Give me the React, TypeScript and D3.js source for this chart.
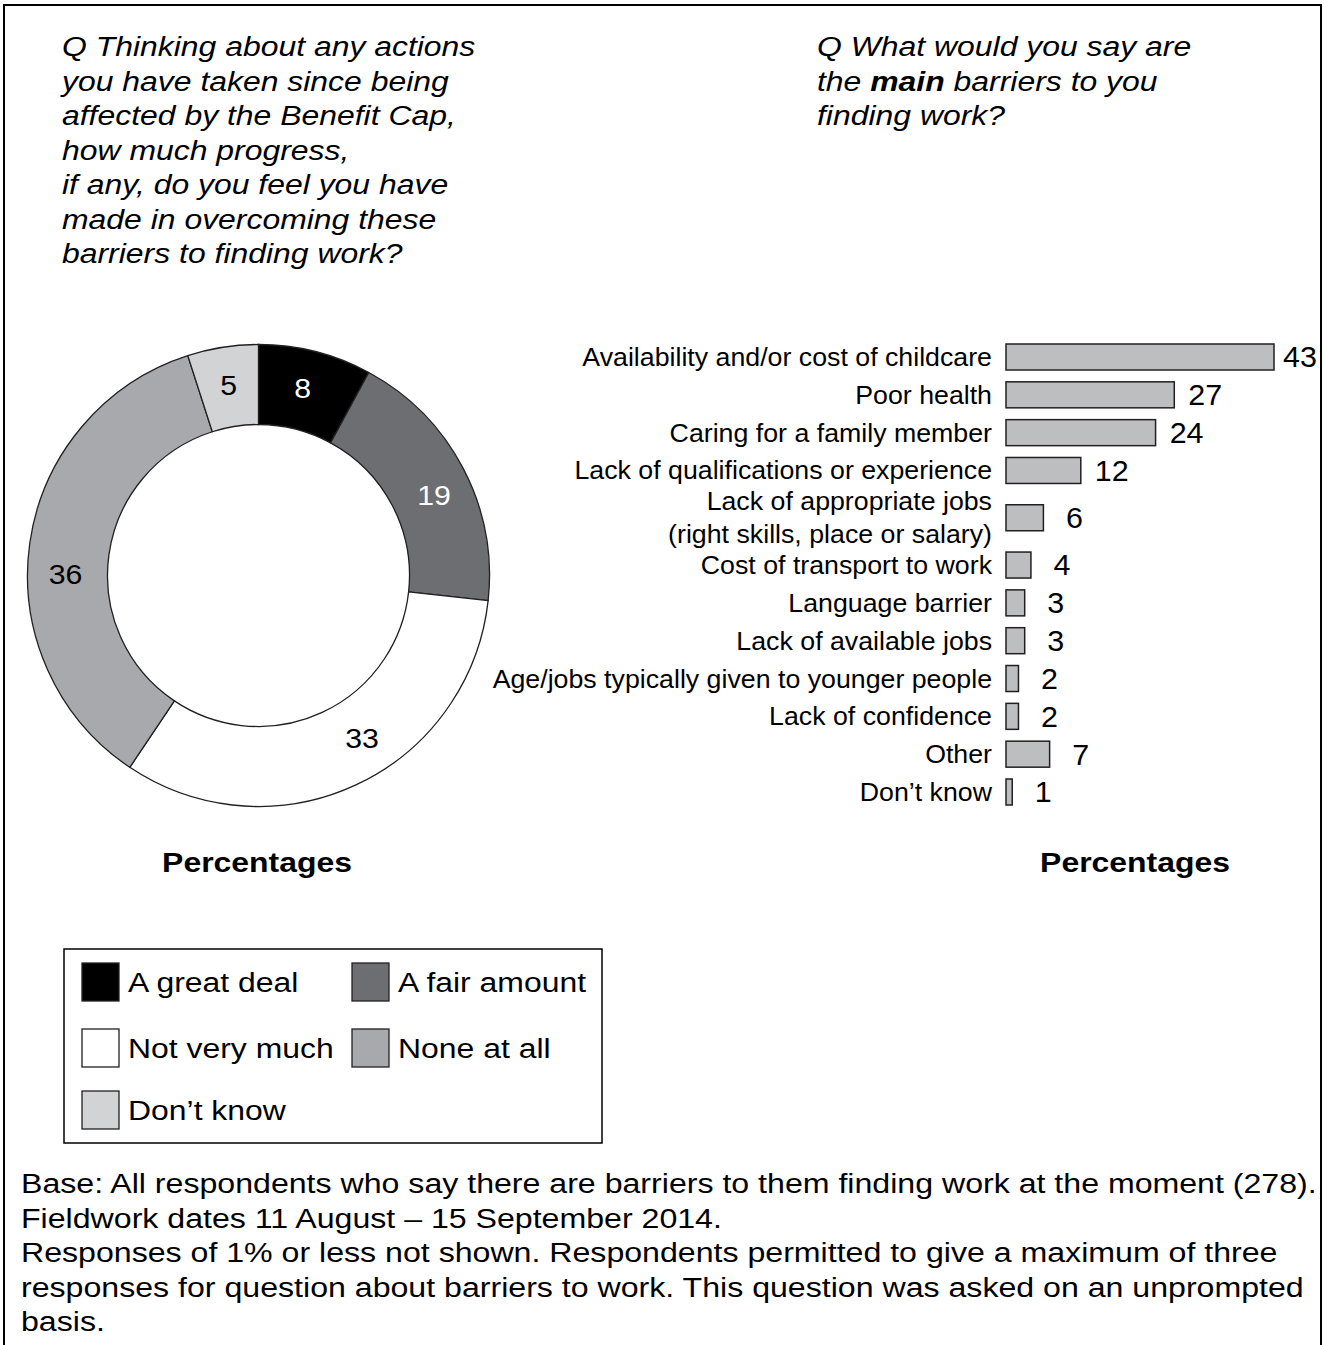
import React from "react";
import * as d3 from "d3";

// ---------- Data ----------
const progressCategories = ["A great deal", "A fair amount", "Not very much", "None at all", "Don\u2019t know"];
const progressValues = [8, 19, 33, 36, 5];
const progressColors = ["#000000", "#6d6e71", "#ffffff", "#a7a9ac", "#d1d3d4"];
const progressLabelColors = ["#ffffff", "#ffffff", "#000000", "#000000", "#000000"];
// small manual nudges (degrees) of the donut value labels, as in the original
const progressLabelNudge = [-1, 3, -7.5, -7.5, 0];

const barrierLabels = [
  "Availability and/or cost of childcare",
  "Poor health",
  "Caring for a family member",
  "Lack of qualifications or experience",
  "Lack of appropriate jobs\n(right skills, place or salary)",
  "Cost of transport to work",
  "Language barrier",
  "Lack of available jobs",
  "Age/jobs typically given to younger people",
  "Lack of confidence",
  "Other",
  "Don\u2019t know",
];
const barrierValues = [43, 27, 24, 12, 6, 4, 3, 3, 2, 2, 7, 1];

const leftTitle = [
  "Q Thinking about any actions",
  "you have taken since being",
  "affected by the Benefit Cap,",
  "how much progress,",
  "if any, do you feel you have",
  "made in overcoming these",
  "barriers to finding work?",
];

const footerLines = [
  "Base: All respondents who say there are barriers to them finding work at the moment (278).",
  "Fieldwork dates 11 August \u2013 15 September 2014.",
  "Responses of 1% or less not shown. Respondents permitted to give a maximum of three",
  "responses for question about barriers to work. This question was asked on an unprompted",
  "basis.",
];

const FONT = "'Liberation Sans', Arial, sans-serif";
const STROKE = "#231f20";

// text drawn with a horizontal stretch (the original's typeface is wider than Arial)
function SText(props: {
  x: number; y: number; sx: number; anchor?: string; size: number; dy?: string;
  weight?: string; italic?: boolean; fill?: string; children: React.ReactNode;
}) {
  const { x, y, sx, anchor = "start", size, dy, weight, italic, fill = "#000", children } = props;
  return (
    <g transform={`translate(${x},${y}) scale(${sx},1)`}>
      <text x={0} y={0} dy={dy} textAnchor={anchor} fontSize={size} fontWeight={weight}
        fontStyle={italic ? "italic" : undefined} fill={fill}>
        {children}
      </text>
    </g>
  );
}

export default function App() {
  // Donut
  const cx = 258.5, cy = 575.5;
  const pie = d3.pie<number>().sort(null).value((d) => d)(progressValues);
  const arc = d3.arc<d3.PieArcDatum<number>>().innerRadius(151).outerRadius(231);
  const labelR = 193;

  // Bars
  const x = d3.scaleLinear().domain([0, 43]).range([1006, 1274]);
  const lines = barrierLabels.map((l) => l.split("\n"));
  const sizes = lines.map((l) => 1 + 0.5 * (l.length - 1));
  const centers: number[] = [];
  let acc = 0;
  sizes.forEach((s) => { centers.push(acc + s / 2); acc += s; });
  const y = d3.scaleLinear().domain([centers[0], centers[centers.length - 1]]).range([357, 792]);
  const barH = 26;

  const legendCols = [82, 352];
  const legendRows = [982, 1048, 1110];

  return (
    <svg width={1324} height={1345} style={{ position: "absolute", left: 0, top: 0, background: "#fff" }} fontFamily={FONT}>
      <rect x={0} y={0} width={1324} height={1345} fill="#fff" />
      {/* border */}
      <path d="M4,1345 V5 H1321 V1345" fill="none" stroke="#000" strokeWidth={2} />

      {/* Left title */}
      {leftTitle.map((t, i) => (
        <SText key={i} x={62} y={56 + i * 34.5} sx={1.14} size={28} italic>{t}</SText>
      ))}
      {/* Right title */}
      <SText x={817} y={56} sx={1.14} size={28} italic>Q What would you say are</SText>
      <SText x={817} y={90.5} sx={1.14} size={28} italic>
        the <tspan fontWeight="bold">main</tspan> barriers to you
      </SText>
      <SText x={817} y={125} sx={1.14} size={28} italic>finding work?</SText>

      {/* Donut */}
      <g transform={`translate(${cx},${cy})`}>
        {pie.map((p, i) => (
          <path key={i} d={arc(p) || ""} fill={progressColors[i]} stroke={STROKE} strokeWidth={1.3} />
        ))}
        {pie.map((p, i) => {
          const a = (p.startAngle + p.endAngle) / 2 + (progressLabelNudge[i] * Math.PI) / 180;
          const lx = labelR * Math.sin(a), ly = -labelR * Math.cos(a);
          return (
            <SText key={i} x={lx} y={ly} sx={1.08} dy="0.36em" anchor="middle" size={28} fill={progressLabelColors[i]}>
              {progressValues[i]}
            </SText>
          );
        })}
      </g>

      {/* Bars */}
      {barrierValues.map((v, i) => {
        const cyb = y(centers[i]);
        return (
          <g key={i}>
            <rect x={x(0)} y={cyb - barH / 2} width={x(v) - x(0)} height={barH} fill="#bcbec0" stroke={STROKE} strokeWidth={1.5} />
            <SText x={Math.min(x(v) + 31, 1300)} y={cyb} sx={1.05} dy="0.36em" anchor="middle" size={29}>{v}</SText>
            {lines[i].map((ln, j) => (
              <SText key={j} x={992} y={cyb + (j - (lines[i].length - 1) / 2) * 33} sx={1.07} dy="0.36em" anchor="end" size={25}>
                {ln}
              </SText>
            ))}
          </g>
        );
      })}

      {/* Percentages */}
      <SText x={257} y={872} sx={1.14} anchor="middle" size={28} weight="bold">Percentages</SText>
      <SText x={1135} y={872} sx={1.14} anchor="middle" size={28} weight="bold">Percentages</SText>

      {/* Legend */}
      <rect x={64} y={949} width={538} height={194} fill="#fff" stroke="#000" strokeWidth={1.5} />
      {progressCategories.map((c, i) => {
        const col = i % 2, row = Math.floor(i / 2);
        const lx = legendCols[col], ly = legendRows[row];
        return (
          <g key={i}>
            <rect x={lx} y={ly - 19} width={37} height={38} fill={progressColors[i]} stroke={STROKE} strokeWidth={1.3} />
            <SText x={lx + 46} y={ly} sx={1.14} dy="0.36em" size={28}>{c}</SText>
          </g>
        );
      })}

      {/* Footer */}
      {footerLines.map((t, i) => (
        <SText key={i} x={21} y={1193 + i * 34.5} sx={1.19} size={27}>{t}</SText>
      ))}
    </svg>
  );
}
